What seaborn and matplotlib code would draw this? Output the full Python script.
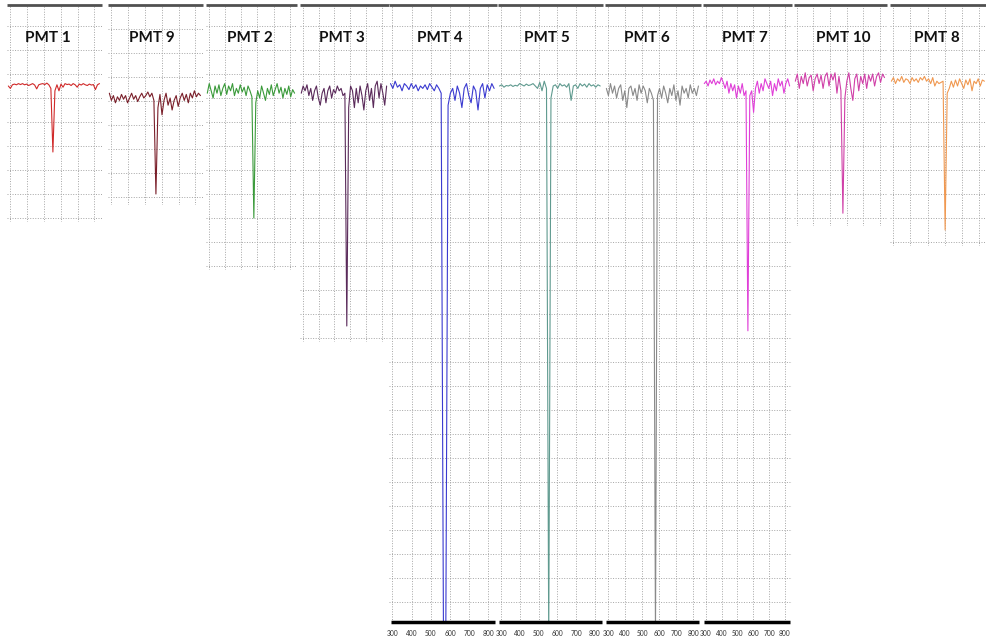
import matplotlib
matplotlib.use("Agg")
import matplotlib.pyplot as plt
import seaborn as sns

# ---------------- data ----------------
WAVELENGTH = [290, 302, 314, 326, 338, 350, 362, 374, 386, 398, 410, 422, 434, 446, 458, 470,
              482, 494, 506, 518, 530, 542, 554, 566, 578, 590, 602, 614, 626, 638, 650, 662,
              674, 686, 698, 710, 722, 734, 746, 758, 770, 782, 794, 806, 818, 830]

PANEL_NAMES = ["PMT 1", "PMT 9", "PMT 2", "PMT 3", "PMT 4", "PMT 5", "PMT 6", "PMT 7", "PMT 10", "PMT 8"]
TICK_VALUES = [300, 400, 500, 600, 700, 800]
TICK_LABELS = ["300", "400", "500", "600", "700", "800"]

PMT1 = [0.0, -0.1, 0.05, 0.08, 0.05, 0.1, 0.06, 0.1, 0.05, 0.08, 0.02, 0.06, 0.1, 0.04, -0.12, 0.05,
        0.08, 0.1, 0.06, 0.12, 0.05, -0.1, -2.75, -0.2, 0.05, -0.2, 0.08, -0.05, 0.1, 0.06, 0.08, 0.02,
        0.1, 0.05, -0.05, 0.08, 0.04, 0.1, 0.05, 0.02, 0.08, 0.04, 0.06, -0.15, 0.05, 0.1]
PMT9 = [-0.3, -0.6, -0.4, -0.7, -0.45, -0.6, -0.35, -0.55, -0.4, -0.7, -0.5, -0.3, -0.55, -0.4, -0.65, -0.45,
        -0.3, -0.5, -0.4, -0.25, -0.45, -0.3, -0.6, -4.5, -0.9, -0.35, -1.2, -0.6, -0.3, -0.8, -0.5, -1.0,
        -0.6, -0.4, -0.85, -0.5, -0.3, -0.6, -0.35, -0.7, -0.3, -0.5, -0.2, -0.45, -0.3, -0.4]
PMT2 = [-0.3, 0.1, -0.2, -0.5, 0.0, -0.3, 0.05, -0.4, -0.1, 0.1, -0.35, 0.0, -0.2, 0.1, -0.4, -0.1,
        -0.3, 0.05, -0.25, -0.05, -0.4, 0.0, -0.2, -0.45, -5.5, -0.7, -0.2, -0.5, 0.0, -0.3, -0.6, -0.1,
        -0.35, 0.05, -0.4, -0.15, 0.1, -0.3, -0.05, -0.5, -0.1, -0.35, 0.0, -0.45, -0.15, -0.3]
PMT3 = [-0.3, 0.0, -0.2, 0.05, -0.4, -0.1, -0.6, -0.2, 0.0, -0.5, -0.8, -0.3, -0.1, -0.7, -0.2, 0.0,
        -0.5, -0.15, -0.3, 0.0, -0.2, -0.1, -0.4, -0.3, -10.0, -0.9, 0.0, -0.2, -0.9, -0.1, -0.7, 0.0,
        -0.4, -1.0, -0.2, 0.1, -0.6, -0.1, -0.9, 0.0, 0.2, -0.5, 0.1, -0.3, -0.8, 0.0]
PMT4 = [0.1, -0.1, 0.2, -0.05, 0.05, -0.2, 0.1, 0.0, -0.15, 0.1, -0.1, 0.05, -0.2, 0.0, -0.1, 0.05,
        -0.15, 0.1, -0.05, -0.2, 0.05, -0.1, -0.3, -23.0, -23.0, -0.8, -0.3, -0.1, -0.6, 0.0, -0.3, -0.9,
        -0.1, 0.1, -0.4, -0.7, 0.0, -0.2, -1.0, -0.1, 0.1, -0.5, 0.05, -0.2, 0.1, -0.1]
PMT5 = [0.0, 0.05, -0.05, 0.02, 0.0, 0.05, -0.02, 0.03, 0.0, 0.1, 0.05, 0.0, 0.08, 0.02, 0.05, 0.1,
        0.0, -0.1, 0.15, -0.2, 0.2, -0.1, -23.0, -0.5, 0.0, 0.05, -0.1, 0.1, 0.0, 0.05, -0.05, 0.1,
        -0.6, 0.0, 0.05, -0.1, 0.1, 0.0, 0.08, -0.05, 0.1, 0.0, 0.05, -0.05, 0.05, 0.0]
PMT6 = [-0.1, -0.4, 0.1, -0.3, 0.0, -0.5, -0.1, 0.05, -0.6, -0.2, -0.9, -0.1, 0.0, -0.4, -0.1, -0.6,
        0.05, -0.3, 0.0, -0.2, -0.7, -0.1, -0.3, -0.6, -23.0, -0.4, -0.1, -0.5, 0.0, -0.3, -0.7, -0.1,
        -0.4, 0.05, -0.6, -0.2, -0.8, 0.0, -0.3, -0.1, -0.5, 0.05, -0.3, -0.1, -0.4, 0.0]
PMT7 = [0.1, 0.2, 0.0, 0.25, 0.1, 0.3, 0.05, 0.2, 0.1, 0.35, 0.15, -0.1, 0.2, -0.3, 0.1, -0.2,
        0.05, -0.5, 0.0, -0.3, 0.1, -0.4, -0.2, -10.2, -0.4, -0.2, -1.1, -0.1, 0.2, -0.3, 0.1, -0.2,
        0.3, 0.1, -0.1, 0.2, -0.4, 0.1, -0.2, 0.3, 0.0, 0.2, -0.3, 0.1, 0.3, 0.0]
PMT10 = [0.2, 0.5, -0.1, 0.4, 0.1, 0.55, 0.0, 0.35, 0.45, -0.2, 0.3, 0.5, 0.1, 0.45, -0.1, 0.4,
         0.55, 0.0, 0.5, 0.25, 0.55, -0.3, 0.4, -0.2, -5.3, -0.5, 0.2, 0.55, -0.1, -0.6, 0.3, 0.5,
         -0.2, 0.4, 0.1, 0.5, -0.1, 0.45, 0.2, 0.5, 0.0, 0.4, 0.55, 0.15, 0.5, 0.35]
PMT8 = [0.2, 0.35, 0.1, 0.3, 0.2, 0.4, 0.15, 0.3, 0.25, 0.1, 0.35, 0.2, 0.3, 0.15, 0.35, 0.25,
        0.4, 0.2, 0.3, 0.1, 0.35, 0.0, 0.2, 0.1, 0.15, 0.2, -6.0, -0.3, -0.1, 0.2, -0.05, 0.25,
        0.0, 0.3, 0.1, -0.1, 0.25, 0.05, 0.3, -0.2, 0.2, 0.1, 0.3, 0.0, 0.25, 0.2]

SERIES = [PMT1, PMT9, PMT2, PMT3, PMT4, PMT5, PMT6, PMT7, PMT10, PMT8]

# ---------------- layout / style ----------------
COLORS = ["#d02a2a", "#7a1f2a", "#3a9a3a", "#5a2a5a", "#3a3ad0",
          "#5f9a8f", "#8a8a8a", "#e03fd8", "#d040a8", "#f09850"]
# panel extents in pixels: left, right, bottom
PANELS = [(7, 102, 222), (108, 203, 205), (206, 297, 270), (300, 389, 342), (389, 497, 622),
          (498, 603, 622), (605, 701, 622), (703, 792, 622), (794, 887, 226), (890, 987, 246)]
LABEL_X = [48, 152, 250, 342, 440, 547, 647, 745, 843, 937]
GRID_OFFSET = [0.5, 0.38, 0.5, 0.5, 0.5, 0.5, 0.5, 0.5, 0.5, 0.5]

W, H = 987, 640
TOP_PX = 5
REF_PX = 86
DIV_PX = 24
XMIN, XMAX = 282, 845

sns.set_style("white")
plt.rcParams["font.family"] = ["Lato", "DejaVu Sans"]

fig = plt.figure(figsize=(W / 100, H / 100), dpi=100)
fig.patch.set_facecolor("white")

for k, (name, vals, col, (l, r, b), lx, goff) in enumerate(
        zip(PANEL_NAMES, SERIES, COLORS, PANELS, LABEL_X, GRID_OFFSET)):
    ax = fig.add_axes([l / W, 1 - b / H, (r - l) / W, (b - TOP_PX) / H])
    ytop = (REF_PX - TOP_PX) / DIV_PX
    ybot = (REF_PX - b) / DIV_PX
    sns.lineplot(x=WAVELENGTH, y=vals, ax=ax, color=col, lw=0.8)
    ax.set_xlim(XMIN, XMAX)
    ax.set_ylim(ybot, ytop)
    ax.set_xticks(TICK_VALUES)
    levels = []
    v = goff + 2
    while v > ybot:
        levels.append(v)
        v -= 1
    ax.set_yticks(levels)
    ax.grid(True, color="#a5a5a5", ls=(0, (1, 1.6)), lw=0.7)
    ax.tick_params(axis="y", left=False, labelleft=False)
    for s in ["left", "right"]:
        ax.spines[s].set_visible(False)
    ax.spines["top"].set_color("#505050")
    ax.spines["top"].set_linewidth(2)
    ax.spines["top"].set_capstyle("butt")
    bottom_axis = b >= 600
    if bottom_axis:
        ppu = (r - l) / (XMAX - XMIN)
        sp = ax.spines["bottom"]
        sp.set_color("black")
        sp.set_linewidth(2.5)
        sp.set_capstyle("butt")
        sp.set_bounds(XMIN + 1.5 / ppu, XMAX - 1.5 / ppu)
        ax.set_xticklabels(TICK_LABELS)
        ax.tick_params(axis="x", length=2, width=0.6, labelsize=4.8, pad=4, colors="#333333")
    else:
        ax.spines["bottom"].set_visible(False)
        ax.tick_params(axis="x", bottom=False, labelbottom=False)
    ax.set_xlabel("")
    ax.set_ylabel("")
    # panel label
    lx_data = XMIN + (lx - l) / (r - l) * (XMAX - XMIN)
    ax.text(lx_data, (REF_PX - 38) / DIV_PX, name, ha="center", va="center",
            fontsize=11, fontweight="bold", color="#111111", zorder=5)

fig.savefig("out.png", dpi=100, facecolor="white")
